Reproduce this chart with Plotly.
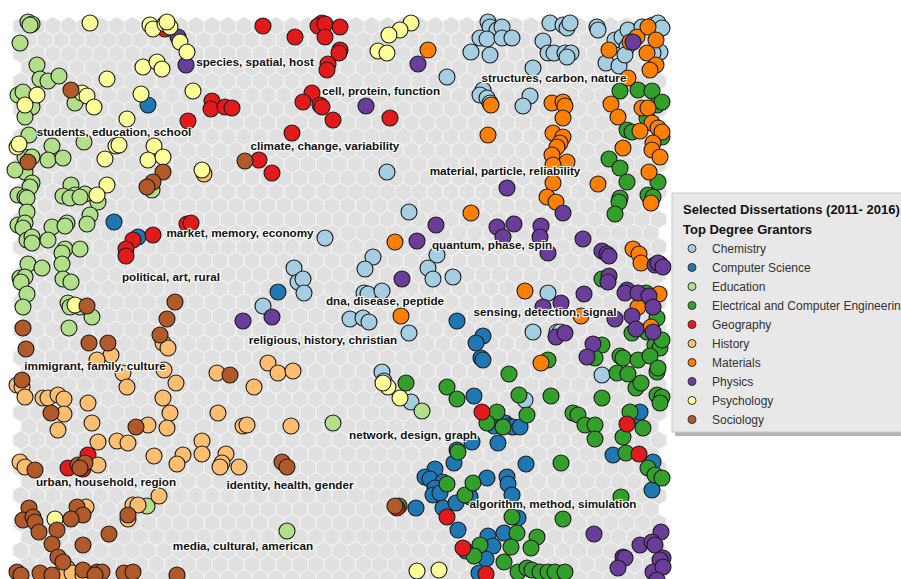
import math
import plotly.graph_objects as go

categories = ["Chemistry", "Computer Science", "Education", "Electrical and Computer Engineering",
              "Geography", "History", "Materials", "Physics", "Psychology", "Sociology"]
colors = ["#a6cee3", "#1f78b4", "#b2df8a", "#33a02c", "#e31a1c",
          "#fdbf6f", "#ff7f00", "#6a3d9a", "#ffff99", "#b15928"]

chemistry = [(488,22),(490,27),(497,30),(502,27),(480,38),(487,39),(502,38),(512,38),(471,52),(490,55),
             (550,23),(563,25),(567,28),(570,23),(543,41),(548,53),(554,53),(565,53),(571,53),(567,57),
             (533,68),(597,27),(598,30),(615,40),(622,37),(627,47),(628,30),(642,27),(653,25),(658,23),
             (662,28),(660,52),(653,53),(606,63),(619,66),(625,55),(447,77),(483,90),(480,95),(487,98),
             (490,103),(530,96),(523,106),(387,172),(409,212),(373,257),(365,269),(437,255),(428,268),
             (433,279),(453,277),(364,293),(368,294),(382,291),(548,293),(350,319),(363,318),(369,322),
             (409,333),(533,332),(557,332),(382,372),(602,375),(325,238),(294,268),(298,282),(303,279),
             (304,293),(263,306),(525,400),(411,402),(384,381),(560,332)]
computer_science = [(148,105),(114,222),(138,237),(278,292),(457,321),(483,336),(476,343),(481,358),(483,360),
                    (474,396),(494,426),(505,423),(509,426),(513,427),(520,427),(498,443),(472,442),(457,450),
                    (454,463),(526,464),(613,455),(653,462),(652,490),(637,416),(640,412),(435,469),(425,477),
                    (430,479),(443,482),(435,488),(433,495),(440,493),(470,497),(487,478),(507,477),(508,484),
                    (512,495),(416,508),(443,508),(456,503),(518,518),(458,530),(488,536),(504,533),(493,546),
                    (466,551),(486,559),(479,573),(562,573)]
education = [(28,22),(32,24),(30,25),(20,43),(37,65),(40,79),(48,81),(59,76),(75,103),(18,95),(23,92),(32,107),
             (25,117),(29,135),(52,146),(84,142),(25,157),(32,157),(25,172),(15,170),(48,160),(63,158),(152,190),
             (32,183),(30,187),(71,185),(18,195),(25,197),(63,196),(75,195),(85,194),(98,202),(27,198),(70,198),
             (80,197),(27,212),(18,225),(25,223),(23,228),(52,227),(67,223),(65,226),(90,215),(87,224),(27,240),
             (32,237),(32,243),(48,240),(65,249),(62,253),(80,249),(28,264),(42,268),(62,264),(20,278),(25,277),
             (21,282),(63,279),(71,282),(27,294),(68,303),(70,307),(80,307),(92,317),(23,307),(69,328),(333,423),
             (147,506),(287,531),(67,568),(422,411)]
electrical_engineering = [(620,91),(638,90),(652,91),(657,105),(662,102),(647,118),(627,130),(632,132),(662,137),
                          (609,159),(620,168),(627,182),(658,182),(620,198),(648,195),(653,197),(619,202),(615,214),
                          (602,279),(646,293),(632,333),(647,332),(655,345),(660,348),(602,345),(595,358),(620,356),
                          (623,358),(638,360),(650,356),(548,360),(509,374),(617,373),(628,374),(657,372),(658,368),
                          (406,383),(447,387),(457,399),(519,395),(551,396),(602,398),(497,412),(527,415),(487,423),
                          (503,427),(573,413),(578,415),(585,425),(595,425),(595,439),(643,428),(630,412),(657,395),
                          (662,397),(660,403),(636,388),(641,383),(623,437),(458,452),(561,463),(626,453),(648,468),
                          (655,475),(662,478),(621,497),(447,484),(465,495),(473,483),(399,506),(512,517),(563,519),
                          (517,533),(537,537),(480,545),(511,547),(531,548),(474,556),(504,562),(518,572),(527,568),
                          (532,570),(540,572),(548,572),(555,572),(565,572),(657,318),(662,340)]
geography = [(165,29),(263,26),(295,37),(212,101),(211,109),(225,107),(232,108),(188,121),(292,133),(259,160),
             (272,173),(322,23),(318,26),(325,24),(340,27),(325,37),(340,50),(339,53),(328,64),(327,70),(312,93),
             (303,102),(320,105),(322,107),(333,120),(390,118),(187,224),(191,223),(133,240),(153,235),(126,249),
             (126,256),(68,468),(83,469),(88,455),(482,412),(627,424),(639,454),(397,508),(447,517),(463,548),
             (486,574)]
history = [(204,174),(163,343),(168,348),(111,355),(97,360),(123,373),(164,370),(217,373),(268,363),(278,373),
           (293,371),(17,385),(22,387),(25,397),(43,398),(48,398),(58,395),(64,399),(127,387),(176,383),(254,387),
           (88,403),(163,398),(64,414),(170,413),(218,413),(92,423),(148,425),(167,428),(243,426),(247,425),
           (291,426),(58,430),(98,442),(117,441),(128,443),(202,441),(154,456),(183,455),(202,454),(177,464),
           (226,454),(222,463),(220,467),(239,467),(20,462),(25,467),(98,465),(159,496),(86,507),(133,505),
           (138,505),(128,519),(62,572),(72,573),(83,575)]
materials = [(428,50),(637,37),(648,27),(656,40),(609,50),(647,53),(656,65),(650,70),(628,78),(491,105),(552,103),
             (563,102),(565,106),(563,118),(488,135),(553,133),(563,137),(560,143),(557,147),(552,155),(567,162),
             (553,165),(553,183),(547,197),(611,104),(618,117),(642,108),(648,108),(652,123),(640,131),(658,128),
             (662,132),(623,148),(653,143),(652,150),(660,157),(649,172),(598,184),(556,202),(651,203),(471,213),
             (395,242),(633,249),(639,254),(641,263),(660,264),(525,291),(659,294),(401,316),(638,307),(581,316),
             (651,327),(541,363),(630,42)]
physics = [(178,37),(186,65),(366,106),(418,64),(633,42),(507,188),(563,213),(436,225),(497,227),(503,237),
           (514,224),(541,226),(540,237),(583,239),(417,241),(548,253),(602,251),(607,254),(609,256),(655,265),
           (658,263),(663,267),(402,279),(609,276),(608,282),(584,294),(627,290),(625,293),(638,293),(649,296),
           (561,303),(543,307),(653,307),(615,319),(632,316),(556,337),(565,333),(636,329),(653,332),(593,344),
           (587,357),(243,321),(272,317),(594,534),(661,532),(623,557),(640,545),(652,542),(655,545),(663,558),
           (660,560),(625,558),(618,568),(653,572),(663,567),(657,580)]
psychology = [(90,23),(150,25),(153,29),(165,24),(170,27),(167,22),(180,42),(187,52),(143,67),(157,62),(162,69),
              (107,79),(82,93),(87,96),(94,107),(37,95),(25,105),(141,94),(193,91),(127,119),(116,146),(119,145),
              (154,146),(17,147),(19,144),(105,159),(148,160),(163,157),(202,170),(107,185),(97,195),(411,23),
              (400,30),(389,35),(378,51),(387,53),(75,305),(55,519),(388,387),(383,383),(400,398),(417,571),
              (439,570)]
sociology = [(71,90),(28,162),(245,161),(163,172),(153,182),(147,187),(87,306),(175,302),(167,319),(23,328),
             (160,335),(89,343),(108,343),(26,349),(230,375),(22,380),(51,413),(136,427),(282,462),(287,467),
             (35,470),(78,465),(85,463),(80,468),(29,508),(77,507),(83,515),(128,515),(23,520),(33,517),(35,522),
             (71,519),(39,532),(57,530),(109,534),(52,544),(83,545),(58,557),(63,562),(17,572),(21,575),(40,573),
             (52,575),(83,570),(97,572),(102,572),(95,575),(124,573),(133,572),(177,575),(395,506)]

series = [chemistry, computer_science, education, electrical_engineering, geography,
          history, materials, physics, psychology, sociology]

topic_labels = ["species, spatial, host", "cell, protein, function", "structures, carbon, nature",
                "students, education, school", "climate, change, variability", "material, particle, reliability",
                "market, memory, economy", "quantum, phase, spin", "political, art, rural",
                "dna, disease, peptide", "sensing, detection, signal", "religious, history, christian",
                "immigrant, family, culture", "network, design, graph", "urban, household, region",
                "identity, health, gender", "algorithm, method, simulation", "media, cultural, american"]
label_x = [255, 381, 554, 114, 325, 505, 240, 492, 171, 385, 545, 323, 95, 413, 106, 290, 553, 243]
label_y = [63, 92, 79, 133, 147, 172, 234, 246, 278, 302, 313, 341, 367, 436, 483, 486, 505, 547]

legend_title = "Selected Dissertations (2011- 2016)"
legend_subtitle = "Top Degree Grantors"

FW, FH = 901, 579

def px_x(p):
    return p / FW

def px_y(p):
    return 1 - p / FH

# ---- hexagonal background grid (pointy-top) ----
R = 9.2
W = math.sqrt(3) * R
top, left = 17.0, 13.0
parts = []
row = 0
while True:
    cy = top + R + row * 1.5 * R
    if cy - R > 590:
        break
    shift = W / 2 if row % 2 == 1 else 0
    ncols = 40 if row % 2 == 1 else 41
    for c in range(ncols):
        cx = left + W / 2 + shift + c * W
        pts = []
        for k in range(6):
            a = math.radians(60 * k + 30)
            pts.append((cx + R * math.cos(a), cy + R * math.sin(a)))
        parts.append("M" + "L".join(f"{px:.1f},{py:.1f}" for px, py in pts) + "Z")
    row += 1
hex_path = "".join(parts)

fig = go.Figure()

for name, col, pts in zip(categories, colors, series):
    fig.add_trace(go.Scatter(
        x=[p[0] for p in pts], y=[p[1] for p in pts], mode="markers", name=name,
        showlegend=False, hoverinfo="skip",
        marker=dict(size=16, color=col, line=dict(width=1.1, color="#1a1a1a"))))

FONT = "Tahoma, 'Liberation Sans', Arial, sans-serif"
halo = "-1px -1px 0 #fff, 1px -1px 0 #fff, -1px 1px 0 #fff, 1px 1px 0 #fff, 0 0 3px #fff"
fig.add_trace(go.Scatter(
    x=label_x, y=label_y, text=topic_labels, mode="text", showlegend=False, hoverinfo="skip",
    textposition="middle center",
    textfont=dict(family=FONT, size=11.7, color="#111", weight="bold", shadow=halo)))

# legend entries
for name, col in zip(categories, colors):
    fig.add_trace(go.Scatter(
        x=[None], y=[None], mode="markers", name=name, showlegend=True,
        marker=dict(size=8, color=col, line=dict(width=1, color="#333"))))

fig.add_shape(type="path", path=hex_path, xref="x", yref="y", layer="below",
              fillcolor="#e0e0e0", line=dict(color="#f2f2f2", width=1))
# legend box with shadow
fig.add_shape(type="rect", xref="x", yref="y", x0=675, x1=925, y0=196, y1=436,
              fillcolor="#b4b4b4", line=dict(width=0), layer="above")
fig.add_shape(type="rect", xref="x", yref="y", x0=672, x1=922, y0=193, y1=432,
              fillcolor="#e8e8e8", line=dict(color="#c8c8c8", width=1), layer="above")
fig.add_annotation(x=681, y=209, xref="x", yref="y", text="<b>" + legend_title + "</b>",
                   showarrow=False, xanchor="left", yanchor="middle",
                   font=dict(family=FONT, size=13, color="#111"))
fig.add_annotation(x=681, y=229, xref="x", yref="y", text="<b>" + legend_subtitle + "</b>",
                   showarrow=False, xanchor="left", yanchor="middle",
                   font=dict(family=FONT, size=13, color="#111"))

fig.update_layout(
    width=FW, height=FH,
    margin=dict(l=0, r=0, t=0, b=0, autoexpand=False),
    paper_bgcolor="white", plot_bgcolor="white",
    xaxis=dict(range=[0, FW], visible=False, fixedrange=True),
    yaxis=dict(range=[FH, 0], visible=False, fixedrange=True),
    legend=dict(
        x=px_x(672), y=px_y(234), xanchor="left", yanchor="top",
        bgcolor="rgba(0,0,0,0)", borderwidth=0,
        font=dict(family=FONT, size=12, color="#333"),
        tracegroupgap=0, itemwidth=30,
    ),
)

fig.write_html("out.html", config={"displayModeBar": False},
               post_script="document.body.style.margin='0';document.body.style.overflow='hidden';")
